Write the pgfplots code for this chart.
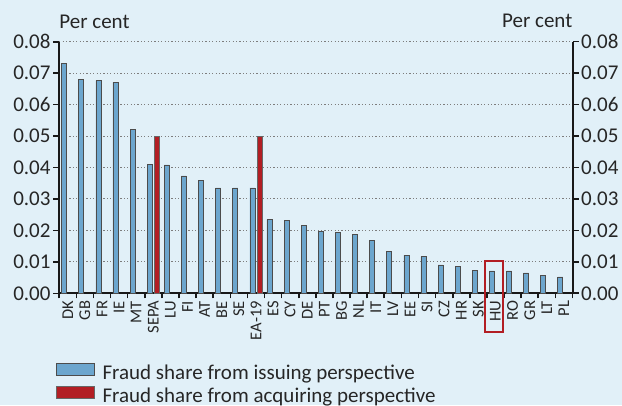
\documentclass[border=0pt]{standalone}
\usepackage{fontspec}
\setmainfont{Carlito}
\usepackage{pgfplots}
\pgfplotsset{compat=1.18}
\definecolor{bgc}{RGB}{225,240,248}
\definecolor{barblue}{RGB}{108,166,206}
\definecolor{barred}{RGB}{178,30,36}
\definecolor{gridc}{RGB}{125,125,125}
\pgfplotsset{legend image code/.code={\draw[#1, line width=0.9pt] (0pt,-1pt) rectangle (38pt,11pt);}}
\begin{document}
\begin{tikzpicture}
\useasboundingbox (0,0) rectangle (622pt,405pt);
\clip (0,0) rectangle (622pt,405pt);
\fill[bgc] (0,0) rectangle (622pt,405pt);
\begin{axis}[
  at={(59.2pt,111.7pt)}, anchor=south west,
  scale only axis, width=513.3pt, height=251.6pt,
  xmin=-0.5, xmax=29.5, ymin=0, ymax=0.08,
  axis x line*=bottom, axis y line*=left,
  axis line style={-, line width=2pt, black!90},
  clip=false,
  tick align=outside,
  major tick length=6pt,
  minor tick length=5pt,
  scaled y ticks=false,
  ytick={0,0.01,0.02,0.03,0.04,0.05,0.06,0.07,0.08},
  yticklabel style={/pgf/number format/fixed, /pgf/number format/precision=2, /pgf/number format/fixed zerofill, inner sep=2.5pt},
  /pgf/number format/assume math mode=true,
  y tick label style={font=\fontsize{21}{24}\selectfont, text=black!85},
  ytick style={line width=1.6pt, black!90},
  ymajorgrids,
  grid style={gridc, line width=1pt, dash pattern=on 1.2pt off 2.2pt},
  xtick={0,...,29},
  xticklabels={DK,GB,FR,IE,MT,SEPA,LU,FI,AT,BE,SE,EA-19,ES,CY,DE,PT,BG,NL,IT,LV,EE,SI,CZ,HR,SK,HU,RO,GR,LT,PL},
  x tick label style={rotate=90, anchor=east, font=\fontsize{16.5}{18}\selectfont, text=black!85, inner sep=1.5pt},
  major x tick style={draw=none},
  minor xtick={-0.5,0.5,...,29.5},
  minor x tick style={line width=1.6pt, black!90},
  legend style={draw=none, fill=none, at={(-0.0068,-0.278)}, anchor=north west,
    inner sep=0pt, outer sep=0pt, row sep=0pt, column sep=6pt,
    font=\fontsize{21}{24}\selectfont, text=black!85,
    nodes={inner sep=2pt, text height=14pt, text depth=5pt}},
  legend cell align=left,
]
\addplot[ybar, bar width=5pt, bar shift=-3.6pt, fill=barblue, draw=black!70, line width=0.7pt]
  coordinates {(0,0.0730) (1,0.0679) (2,0.0676) (3,0.0671) (4,0.0520) (5,0.0411) (6,0.0408) (7,0.0373) (8,0.0360) (9,0.0335) (10,0.0335) (11,0.0335) (12,0.0234) (13,0.0232) (14,0.0215) (15,0.0197) (16,0.0193) (17,0.0187) (18,0.0167) (19,0.0133) (20,0.0121) (21,0.0117) (22,0.0090) (23,0.0085) (24,0.0073) (25,0.0071) (26,0.0071) (27,0.0065) (28,0.0056) (29,0.0052)};
\addlegendentry{Fraud share from issuing perspective}
\addplot[ybar, bar width=5pt, bar shift=3.8pt, fill=barred, draw=black!60, line width=0.7pt]
  coordinates {(5,0.050) (11,0.050)};
\addlegendentry{Fraud share from acquiring perspective}
\draw[barred, line width=2pt] (axis cs:24.38,0.01037) rectangle (axis cs:25.46,-0.0122);
\node[anchor=base west, inner sep=0pt, font=\fontsize{21}{24}\selectfont, text=black!85] at ([yshift=13.7pt]rel axis cs:0,1) {Per cent};
\end{axis}
\begin{axis}[
  at={(59.2pt,111.7pt)}, anchor=south west,
  scale only axis, width=513.3pt, height=251.6pt,
  xmin=-0.5, xmax=29.5, ymin=0, ymax=0.08,
  axis x line=none, axis y line*=right,
  axis line style={-, line width=2pt, black!90},
  clip=false,
  tick align=outside,
  major tick length=6pt,
  scaled y ticks=false,
  ytick={0,0.01,0.02,0.03,0.04,0.05,0.06,0.07,0.08},
  yticklabel style={/pgf/number format/fixed, /pgf/number format/precision=2, /pgf/number format/fixed zerofill, inner sep=2.5pt},
  /pgf/number format/assume math mode=true,
  y tick label style={font=\fontsize{21}{24}\selectfont, text=black!85},
  ytick style={line width=1.6pt, black!90},
]
\node[anchor=base east, inner sep=0pt, font=\fontsize{21}{24}\selectfont, text=black!85] at ([yshift=13.7pt]rel axis cs:1,1) {Per cent};
\end{axis}
\end{tikzpicture}
\end{document}
